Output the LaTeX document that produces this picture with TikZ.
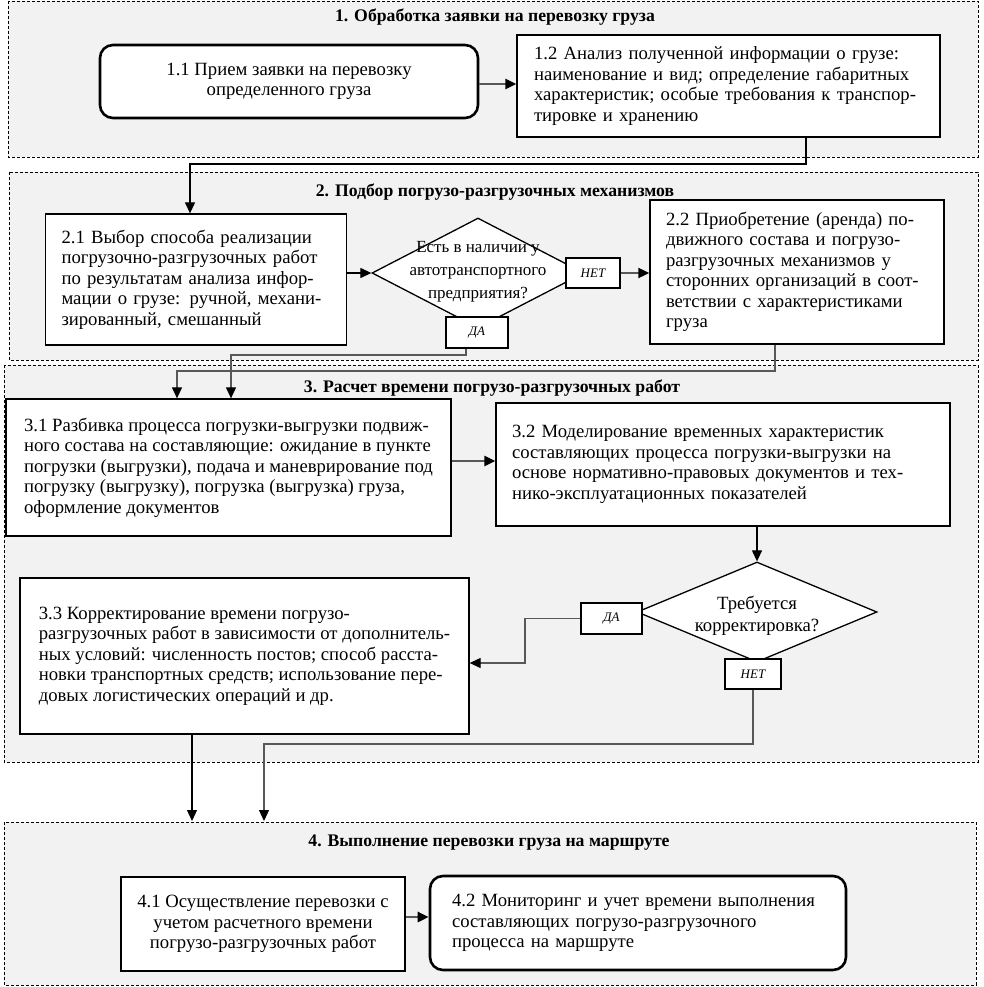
\documentclass[tikz,border=0pt]{standalone}
\usepackage{fontspec}
\setmainfont{Liberation Serif}
\usetikzlibrary{arrows.meta,shapes.geometric}
\definecolor{secfill}{HTML}{F2F2F2}
\definecolor{linkgray}{HTML}{585858}
\tikzset{
	section/.style={draw, dash pattern=on 3pt off 2pt, line width=0.9pt, fill=secfill},
	sectitle/.style={font=\bfseries\fontsize{17.7}{20.5}\selectfont},
	box/.style={draw, line width=1.3pt, fill=white, inner sep=0pt, align=left, font=\fontsize{18.7}{20.5}\selectfont},
	roundbox/.style={box, rounded corners=13pt, line width=2.6pt},
	decision/.style={draw, diamond, line width=1.3pt, fill=white, inner sep=0pt},
	dtext/.style={align=center, font=\fontsize{17}{23}\selectfont},
	tag/.style={draw, line width=1.3pt, fill=white, inner sep=0pt, font=\itshape\fontsize{13}{15}\selectfont},
	link/.style={line width=1.2pt, -{Triangle[length=11pt,width=10pt]}},
	glink/.style={line width=1.2pt, draw=linkgray, -{Triangle[length=11pt,width=10pt,color=black]}},
	flow/.style={line width=2.6pt, draw=linkgray, -{Triangle[length=11pt,width=10pt,color=black]}}
}
\begin{document}
\begin{tikzpicture}[x=1pt, y=-1pt]
	\useasboundingbox (0,0) rectangle (983,987);
	% stages
	\draw[section] (8,1) rectangle (978,157);
	\draw[section] (9,172) rectangle (978,360);
	\draw[section] (4,365) rectangle (978,762);
	\draw[section] (4,822) rectangle (976,985);
	\node[sectitle] (t1) at (495,17) {1. Обработка заявки на перевозку груза};
	\node[sectitle] (t2) at (495,192) {2. Подбор погрузо-разгрузочных механизмов};
	\node[sectitle] (t3) at (492,388) {3. Расчет времени погрузо-разгрузочных работ};
	\node[sectitle] (t4) at (489,843) {4. Выполнение перевозки груза на маршруте};
	% stage 1
	\node[roundbox, align=center, minimum width=378pt, minimum height=73pt] (b11) at (289,81.5) {1.1 Прием заявки на перевозку\\определенного груза};
	\node[box, text width=389pt, minimum width=423pt, minimum height=102pt] (b12) at (728.5,86) {1.2 Анализ полученной информации о грузе:\\наименование и вид; определение габаритных\\характеристик; особые требования к транспор-\\тировке и хранению};
	% stage 2
	\node[box, text width=269pt, minimum width=301pt, minimum height=131pt] (b21) at (196,279.5) {2.1 Выбор способа реализации\\погрузочно-разгрузочных работ\\по результатам анализа инфор-\\мации о грузе: ручной, механи-\\зированный, смешанный};
	\node[decision, minimum width=212pt, minimum height=110pt] (d1) at (478,273) {};
	\node[dtext] (d1t) at (478,272) {Есть в наличии у\\автотранспортного\\предприятия?};
	\node[tag, minimum width=54pt, minimum height=30pt] (n1) at (593,273) {НЕТ};
	\node[tag, minimum width=62pt, minimum height=31pt] (y1) at (477,332.5) {ДА};
	\node[box, text width=262pt, minimum width=294pt, minimum height=144pt] (b22) at (797,272) {2.2 Приобретение (аренда) по-\\движного состава и погрузо-\\разгрузочных механизмов у\\сторонних организаций в соот-\\ветствии с характеристиками\\груза};
	% stage 3
	\node[box, minimum width=445pt, minimum height=137pt] (b31) at (228.5,467.5) {3.1 Разбивка процесса погрузки-выгрузки подвиж-\\ного состава на составляющие: ожидание в пункте\\погрузки (выгрузки), подача и маневрирование под\\погрузку (выгрузку), погрузка (выгрузка) груза,\\оформление документов};
	\node[box, text width=422pt, minimum width=454pt, minimum height=123pt] (b32) at (723,464.5) {3.2 Моделирование временных характеристик\\составляющих процесса погрузки-выгрузки на\\основе нормативно-правовых документов и тех-\\нико-эксплуатационных показателей};
	\node[decision, minimum width=240pt, minimum height=100pt] (d2) at (757,612) {};
	\node[dtext, font=\fontsize{18.7}{22}\selectfont] (d2t) at (757,616) {Требуется\\корректировка?};
	\node[tag, minimum width=61pt, minimum height=31pt] (y2) at (611.5,618.5) {ДА};
	\node[tag, minimum width=56pt, minimum height=30pt] (n2) at (753,674) {НЕТ};
	\node[box, minimum width=449pt, minimum height=156pt] (b33) at (244.5,656) {3.3 Корректирование времени погрузо-\\разгрузочных работ в зависимости от дополнитель-\\ных условий: численность постов; способ расста-\\новки транспортных средств; использование пере-\\довых логистических операций и др.};
	% stage 4
	\node[box, align=center, minimum width=284pt, minimum height=94pt] (b41) at (263,924) {4.1 Осуществление перевозки с\\учетом расчетного времени\\погрузо-разгрузочных работ};
	\node[roundbox, text width=372pt, minimum width=416pt, minimum height=94pt] (b42) at (638,923) {4.2 Мониторинг и учет времени выполнения\\составляющих погрузо-разгрузочного\\процесса на маршруте};
	% turning points
	\coordinate (k1) at (806,164);
	\coordinate (k2) at (190,164);
	\coordinate (k3) at (466,355);
	\coordinate (k4) at (231,355);
	\coordinate (k5) at (775,371);
	\coordinate (k6) at (177,371);
	\coordinate (k7) at (525,663);
	\coordinate (k8) at (753,744);
	\coordinate (k9) at (264,744);
	\coordinate (k10) at (192,821);
	% connectors
	\draw[flow] (b11.east |- 0,84) -- (b12.west |- 0,84);
	\draw[link] (b12.south -| k1) -- (k1) -- (k2) -- (k2 |- b21.north);
	\draw[link] (b21.east |- d1.west) -- (d1.west);
	\draw[flow, line width=1.8pt] (n1.east) -- (n1.east -| b22.west);
	\draw[glink] (y1.south -| k3) -- (k3) -- (k4) -- (k4 |- b31.north);
	\draw[glink] (b22.south -| k5) -- (k5) -- (k6) -- (k6 |- b31.north);
	\draw[flow] (b31.east |- 0,461) -- (b32.west |- 0,461);
	\draw[link] (b32.south -| d2.north) -- (d2.north);
	\draw[glink] (y2.west) -| (k7) -- (k7 -| b33.east);
	\draw[glink] (n2.south) -- (k8) -- (k9) -- (k9 |- k10);
	\draw[link] (b33.south -| k10) -- (k10);
	\draw[flow] (b41.east |- 0,917) -- (b42.west |- 0,917);
\end{tikzpicture}
\end{document}
